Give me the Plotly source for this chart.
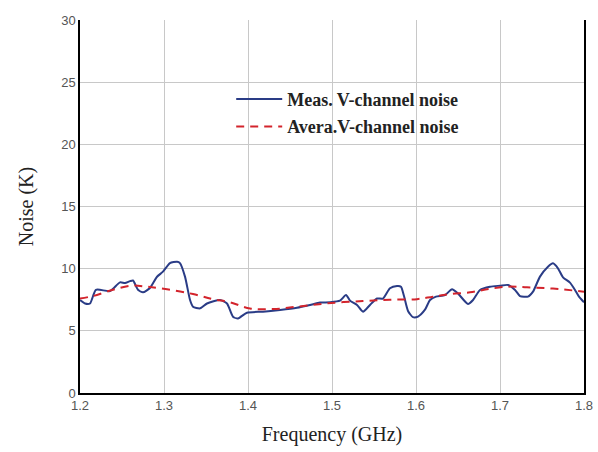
import plotly.graph_objects as go

# Measured V-channel noise
meas_freq = [1.2000, 1.2060, 1.2119, 1.2190, 1.2357, 1.2476, 1.2536, 1.2595, 1.2631, 1.2690,
             1.2750, 1.2833, 1.2917, 1.2988, 1.3071, 1.3155, 1.3190, 1.3250, 1.3310, 1.3345,
             1.3429, 1.3512, 1.3667, 1.3750, 1.3821, 1.3881, 1.3988, 1.4179, 1.4381, 1.4583,
             1.4738, 1.4857, 1.4976, 1.5095, 1.5167, 1.5214, 1.5298, 1.5369, 1.5452, 1.5536,
             1.5607, 1.5690, 1.5774, 1.5821, 1.5857, 1.5905, 1.5964, 1.6024, 1.6107, 1.6167,
             1.6238, 1.6345, 1.6429, 1.6500, 1.6619, 1.6679, 1.6762, 1.6881, 1.7000, 1.7095,
             1.7179, 1.7238, 1.7333, 1.7393, 1.7476, 1.7571, 1.7631, 1.7690, 1.7750, 1.7833,
             1.7893, 1.7940, 1.8000]
meas_noise = [7.48, 7.2, 7.2, 8.3, 8.2, 8.9, 8.85, 9.0, 9.05, 8.3,
              8.1, 8.45, 9.35, 9.76, 10.45, 10.56, 10.45, 9.36, 7.48, 6.94,
              6.81, 7.2, 7.48, 7.2, 6.14, 6.0, 6.46, 6.54, 6.68, 6.86,
              7.08, 7.27, 7.3, 7.43, 7.88, 7.43, 7.08, 6.54, 7.08, 7.6,
              7.6, 8.42, 8.6, 8.55, 7.8, 6.6, 6.1, 6.15, 6.7, 7.48,
              7.75, 7.88, 8.34, 8.0, 7.16, 7.48, 8.29, 8.55, 8.63, 8.69,
              8.29, 7.8, 7.75, 8.15, 9.36, 10.16, 10.43, 10.03, 9.3, 8.88,
              8.29, 7.75, 7.3]

# Averaged V-channel noise
avg_freq = [1.2000, 1.2155, 1.2393, 1.2619, 1.2798, 1.3036, 1.3345, 1.3583, 1.3786, 1.4024,
            1.4298, 1.4583, 1.4940, 1.5369, 1.5690, 1.6012, 1.6202, 1.6405, 1.6643, 1.6845,
            1.7083, 1.7321, 1.7631, 1.8000]
avg_noise = [7.6, 7.8, 8.3, 8.63, 8.55, 8.34, 7.96, 7.54, 7.3, 6.8,
             6.75, 6.94, 7.21, 7.4, 7.5, 7.55, 7.75, 7.95, 8.1, 8.34,
             8.55, 8.5, 8.4, 8.15]

x_ticks = [1.2, 1.3, 1.4, 1.5, 1.6, 1.7, 1.8]
y_ticks = [0, 5, 10, 15, 20, 25, 30]

SERIF = "Liberation Serif, Times New Roman, serif"
SANS = "Liberation Sans, Arial, sans-serif"

fig = go.Figure()
fig.add_trace(go.Scatter(
    x=meas_freq, y=meas_noise, mode="lines", name="Meas. V-channel noise",
    line=dict(color="#2a3c86", width=2, shape="spline", smoothing=0.6),
    legendgroup="a",
))
fig.add_trace(go.Scatter(
    x=avg_freq, y=avg_noise, mode="lines", name="Avera.V-channel noise",
    line=dict(color="#d3242c", width=2, dash="8px,6px", shape="spline"),
    legendgroup="b",
))

fig.update_layout(
    width=598, height=452,
    margin=dict(l=80, r=14, t=20, b=59),
    paper_bgcolor="white", plot_bgcolor="white",
    showlegend=True,
    legend=dict(
        x=0.30, y=0.837, xanchor="left", yanchor="top",
        bgcolor="rgba(255,255,255,0)",
        font=dict(family=SERIF, size=18, color="#222222", weight="bold"),
        traceorder="grouped", tracegroupgap=1, itemwidth=46,
    ),
    xaxis=dict(
        range=[1.2, 1.8], tickvals=x_ticks, ticktext=[f"{v:.1f}" for v in x_ticks],
        showgrid=True, gridcolor="#c8c8c8", gridwidth=1,
        showline=True, linecolor="black", linewidth=1.5, mirror=False,
        ticks="", zeroline=False, automargin=False,
        tickfont=dict(family=SANS, size=13, color="#555555"),
        title=dict(text="Frequency (GHz)",
                   font=dict(family=SERIF, size=20, color="#222222")),
    ),
    yaxis=dict(
        range=[0, 30], tickvals=y_ticks,
        showgrid=True, gridcolor="#c8c8c8", gridwidth=1,
        showline=True, linecolor="black", linewidth=1.5, mirror=True,
        ticks="", zeroline=False, automargin=False,
        tickfont=dict(family=SANS, size=13, color="#555555"),
        title=dict(text="Noise (K)", standoff=22,
                   font=dict(family=SERIF, size=20, color="#222222")),
    ),
)

fig.write_html("out.html", config={"displayModeBar": False},
               post_script="document.body.style.margin='0';document.body.style.overflow='hidden';")
